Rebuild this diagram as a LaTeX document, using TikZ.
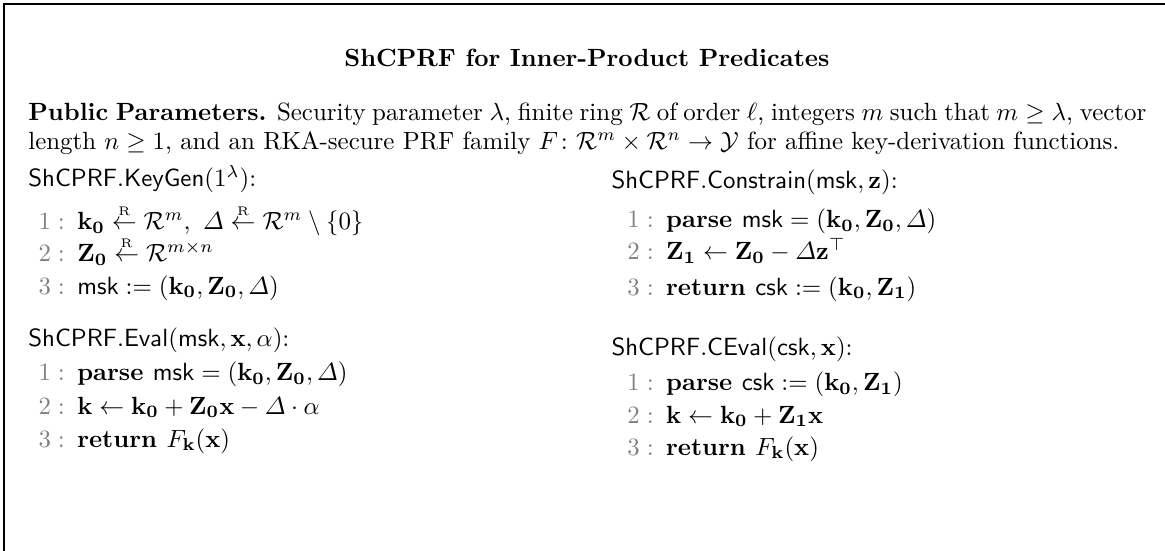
\documentclass[tikz,border=0pt]{standalone}
\usepackage{amsmath,amssymb}

\newcommand{\lnum}[1]{\textcolor{gray}{$#1:$}\enspace}
\newcommand{\sampR}{\mathrel{\smash{\overset{\scriptscriptstyle\mathrm{R}}{\leftarrow}}}}
\newcommand{\bk}{\mathbf{k}}
\newcommand{\kz}{\mathbf{k_0}}
\newcommand{\Zz}{\mathbf{Z_0}}
\newcommand{\Zo}{\mathbf{Z_1}}

\begin{document}
\begin{tikzpicture}[
    procname/.style={anchor=base west, inner sep=0pt},
    codeline/.style={anchor=base west, inner sep=0pt}]

    \useasboundingbox (0,0) rectangle (46.79em,-22.13em);

    % Frame (only left and top edges are in view)
    \draw[line width=0.8pt] (0.18em,-22.13em) |- (46.79em,-0.18em);

    % Title
    \node[anchor=base, inner sep=0pt] (title) at (23.57em,-2.69em)
        {\bfseries ShCPRF for Inner-Product Predicates};

    % Public parameters
    \node[anchor=base west,
        inner sep=0pt,
        text width=44.9em,
        align=justify] (params) at (1.12em,-4.82em)
        {\textbf{Public Parameters.} Security parameter $\lambda$, finite ring $\mathcal{R}$ of order $\ell$, integers $m$ such that $m \geq \lambda$, vector length $n \geq 1$, and an RKA-secure PRF family $F\colon \mathcal{R}^m \times \mathcal{R}^n \to \mathcal{Y}$ for affine key-derivation functions.};

    % KeyGen
    \node[procname] (keygen) at (1.12em,-7.51em) {$\mathsf{ShCPRF.KeyGen}(1^\lambda)$:};
    \node[codeline] (kg1) at (1.53em,-9.21em)
        {\lnum{1}$\kz \sampR \mathcal{R}^m,\ \varDelta \sampR \mathcal{R}^m \setminus \{0\}$};
    \node[codeline] (kg2) at (1.53em,-10.51em)
        {\lnum{2}$\Zz \sampR \mathcal{R}^{m \times n}$};
    \node[codeline] (kg3) at (1.53em,-11.81em)
        {\lnum{3}$\mathsf{msk} := (\kz, \Zz, \varDelta)$};

    % Constrain
    \node[procname] (constrain) at (24.54em,-7.59em) {$\mathsf{ShCPRF.Constrain}(\mathsf{msk}, \mathbf{z})$:};
    \node[codeline] (cn1) at (25.18em,-9.15em)
        {\lnum{1}$\textbf{parse } \mathsf{msk} = (\kz, \Zz, \varDelta)$};
    \node[codeline] (cn2) at (25.18em,-10.44em)
        {\lnum{2}$\Zo \leftarrow \Zz - \varDelta \mathbf{z}^{\top}$};
    \node[codeline] (cn3) at (25.18em,-11.85em)
        {\lnum{3}$\textbf{return } \mathsf{csk} := (\kz, \Zo)$};

    % Eval
    \node[procname] (eval) at (1.12em,-13.9em) {$\mathsf{ShCPRF.Eval}(\mathsf{msk}, \mathbf{x}, \alpha)$:};
    \node[codeline] (ev1) at (1.53em,-15.3em)
        {\lnum{1}$\textbf{parse } \mathsf{msk} = (\kz, \Zz, \varDelta)$};
    \node[codeline] (ev2) at (1.53em,-16.63em)
        {\lnum{2}$\bk \leftarrow \kz + \Zz\mathbf{x} - \varDelta \cdot \alpha$};
    \node[codeline] (ev3) at (1.53em,-17.96em)
        {\lnum{3}$\textbf{return } F_{\bk}(\mathbf{x})$};

    % CEval
    \node[procname] (ceval) at (24.54em,-14.26em) {$\mathsf{ShCPRF.CEval}(\mathsf{csk}, \mathbf{x})$:};
    \node[codeline] (ce1) at (25.18em,-15.7em)
        {\lnum{1}$\textbf{parse } \mathsf{csk} := (\kz, \Zo)$};
    \node[codeline] (ce2) at (25.18em,-16.99em)
        {\lnum{2}$\bk \leftarrow \kz + \Zo\mathbf{x}$};
    \node[codeline] (ce3) at (25.18em,-18.28em)
        {\lnum{3}$\textbf{return } F_{\bk}(\mathbf{x})$};

\end{tikzpicture}
\end{document}
